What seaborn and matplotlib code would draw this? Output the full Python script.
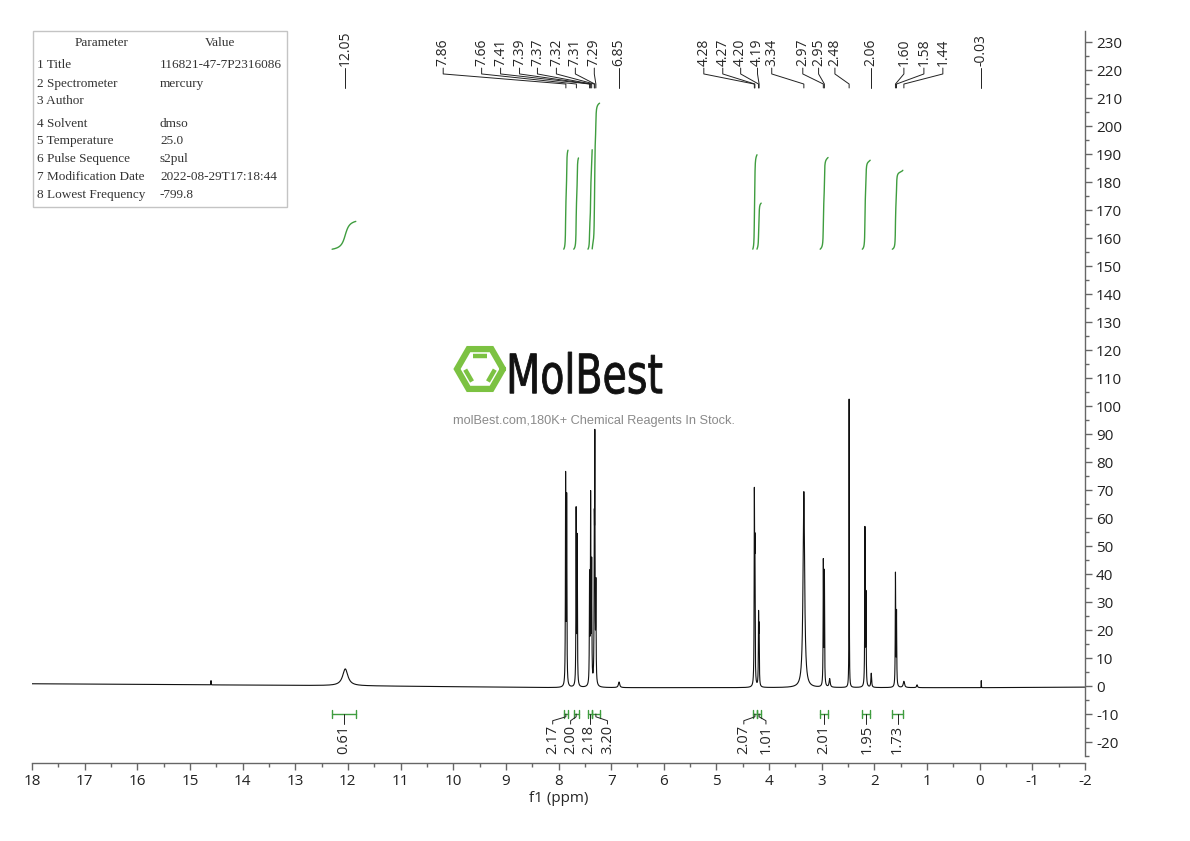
import numpy as np
import pandas as pd
import matplotlib
matplotlib.use("Agg")
import matplotlib.pyplot as plt
import seaborn as sns
from matplotlib.patches import Rectangle, PathPatch
from matplotlib.textpath import TextPath
from matplotlib.font_manager import FontProperties
from matplotlib.transforms import Affine2D
from matplotlib.ticker import MultipleLocator

# --- peaks: position (ppm), height, half width (ppm) ---
peak_ppm = [14.60, 12.05, 7.865, 7.845, 7.665, 7.645, 7.41, 7.39, 7.37, 7.32, 7.31, 7.29,
            6.85, 4.28, 4.27, 4.20, 4.19, 3.34, 2.97, 2.95, 2.85, 2.48, 2.18, 2.16,
            2.06, 1.60, 1.58, 1.44, 1.19, -0.03]
peak_height = [1.5, 6.0, 74, 66, 62, 52, 38, 66, 42, 48, 82, 34,
               2.0, 64, 44, 24, 19, 70, 44, 40, 3.0, 103, 56, 32,
               5.0, 40, 26, 2.2, 1.0, 2.5]
peak_hwhm = [0.002, 0.06, 0.0045, 0.0045, 0.0045, 0.0045, 0.0045, 0.0045, 0.0045, 0.0045, 0.0045, 0.0045,
             0.015, 0.0045, 0.0045, 0.0045, 0.0045, 0.018, 0.0045, 0.0045, 0.012, 0.003, 0.0045, 0.0045,
             0.008, 0.0045, 0.0045, 0.015, 0.01, 0.002]

baseline_ppm = [-2, 0, 8, 12, 18]
baseline_level = [-0.4, -0.6, -0.6, 0.1, 0.8]

# --- peak picking labels along the top ---
label_ppm = [12.05, 7.86, 7.66, 7.41, 7.39, 7.37, 7.32, 7.31, 7.29, 6.85,
             4.28, 4.27, 4.20, 4.19, 3.34, 2.97, 2.95, 2.48, 2.06, 1.60, 1.58, 1.44, -0.03]
label_pos = [12.05, 10.19, 9.46, 9.10, 8.74, 8.40, 8.04, 7.68, 7.32, 6.85,
             5.24, 4.88, 4.54, 4.22, 3.95, 3.36, 3.06, 2.75, 2.06, 1.44, 1.06, 0.70, -0.03]

# --- integrals ---
int_hi = [12.30, 7.90, 7.71, 7.44, 7.36, 4.31, 4.23, 3.03, 2.23, 1.66]
int_lo = [11.85, 7.82, 7.62, 7.36, 7.22, 4.23, 4.15, 2.88, 2.08, 1.46]
int_value = [0.61, 2.17, 2.00, 2.18, 3.20, 2.07, 1.01, 2.01, 1.95, 1.73]
int_label_pos = [12.07, 8.11, 7.77, 7.43, 7.07, 4.48, 4.06, 2.96, 2.13, 1.57]

param_names = ["1 Title", "2 Spectrometer", "3 Author", "4 Solvent", "5 Temperature",
               "6 Pulse Sequence", "7 Modification Date", "8 Lowest Frequency"]
param_values = ["116821-47-7P2316086", "mercury", "", "dmso", "25.0",
                "s2pul", "2022-08-29T17:18:44", "-799.8"]

sns.set_theme(style="white")
plt.rcParams["font.family"] = ["Open Sans", "DejaVu Sans"]
plt.rcParams["axes.unicode_minus"] = False

GREEN = "#3f9d3f"
LOGO_GREEN = "#7cc242"

# spectrum as a sum of lorentzian lines
ppm = np.linspace(18, -2, 40001)
base = np.interp(ppm, baseline_ppm, baseline_level)
spec = base.copy()
for p, h, w in zip(peak_ppm, peak_height, peak_hwhm):
    spec += h / (1 + ((ppm - p) / w) ** 2)
df = pd.DataFrame({"ppm": ppm, "intensity": spec})

fig = plt.figure(figsize=(11.9, 8.41), dpi=100)
ax = fig.add_axes([32 / 1190, 78 / 841, 1053 / 1190, 733 / 841])
sns.lineplot(data=df, x="ppm", y="intensity", ax=ax, color="#111111", lw=0.8,
             estimator=None, sort=False)
ax.set_xlim(18, -2)
ax.set_ylim(-27.5, 234.3)

# integral curves (cumulative area of each region)
for hi, lo, val in zip(int_hi, int_lo, int_value):
    m = (ppm <= hi) & (ppm >= lo)
    seg = spec[m] - base[m]
    cum = np.cumsum(seg)
    cum = cum / cum[-1]
    ax.plot(ppm[m], 156 + val * 16.3 * cum, color=GREEN, lw=1.0)

# integral brackets and values
for hi, lo, val, lx in zip(int_hi, int_lo, int_value, int_label_pos):
    c = (hi + lo) / 2
    ax.plot([hi, lo], [-10, -10], color=GREEN, lw=1.0)
    ax.plot([hi, hi], [-11.3, -8.7], color=GREEN, lw=1.0)
    ax.plot([lo, lo], [-11.3, -8.7], color=GREEN, lw=1.0)
    if abs(c - lx) < 0.03:
        ax.plot([c, c], [-10, -13.6], color="#222222", lw=0.7)
    else:
        ax.plot([c, c, lx, lx], [-10, -11.0, -12.4, -13.6], color="#222222", lw=0.7)
    ax.text(lx, -14.0, f"{val:.2f}", rotation=90, ha="center", va="top", fontsize=10.5)

# peak labels
for p, lx in zip(label_ppm, label_pos):
    ax.plot([lx, lx, p, p], [220.7, 218.6, 215.0, 213.6], color="#222222", lw=0.7)
    ax.text(lx, 221.3, f"{p:.2f}", rotation=90, ha="center", va="bottom", fontsize=10)

# axes styling
for side in ["left", "top"]:
    ax.spines[side].set_visible(False)
ax.spines["right"].set_bounds(-25, 234)
for side in ["right", "bottom"]:
    ax.spines[side].set_color("#666666")
    ax.spines[side].set_linewidth(1.0)
ax.yaxis.tick_right()
ax.yaxis.set_major_locator(MultipleLocator(10))
ax.yaxis.set_minor_locator(MultipleLocator(5))
ax.xaxis.set_major_locator(MultipleLocator(1))
ax.xaxis.set_minor_locator(MultipleLocator(0.5))
ax.tick_params(axis="both", which="major", direction="out", length=5, width=1,
               color="#666666", labelsize=11, labelcolor="#222222", pad=3)
ax.tick_params(axis="both", which="minor", direction="out", length=3, width=1, color="#666666")
ax.tick_params(axis="x", which="both", bottom=True)
ax.tick_params(axis="y", which="both", right=True, left=False)
ax.set_xlabel("f1 (ppm)", fontsize=11, labelpad=1)
ax.set_ylabel("")

# overlay in pixel units for the parameter table and the watermark
ov = fig.add_axes([0, 0, 1, 1])
ov.set_xlim(0, 1190)
ov.set_ylim(841, 0)
ov.axis("off")
ov.patch.set_alpha(0)

ov.add_patch(Rectangle((33, 31), 254, 176, fill=False, ec="#c4c4c4", lw=1))
tfont = dict(family="Liberation Serif", size=9.5, color="#333333", va="center")
ov.text(102, 43, "Parameter", ha="center", **tfont)
ov.text(220, 43, "Value", ha="center", **tfont)
row_y = [65, 84, 101, 124, 141, 159, 177, 195]
for y, n, v in zip(row_y, param_names, param_values):
    ov.text(37, y, n, ha="left", **tfont)
    ov.text(160, y, v, ha="left", **tfont)

# logo: hexagon ring with inner bonds
cx, cy, r = 480, 369, 23
ang = np.deg2rad(np.arange(0, 420, 60))
hx, hy = cx + r * np.cos(ang), cy + r * np.sin(ang)
ov.plot(hx, hy, color=LOGO_GREEN, lw=4.5, solid_joinstyle="miter")
for k0, k1 in [(4, 5), (2, 3), (0, 1)]:
    x0, y0 = cx + 0.66 * (hx[k0] - cx), cy + 0.66 * (hy[k0] - cy)
    x1, y1 = cx + 0.66 * (hx[k1] - cx), cy + 0.66 * (hy[k1] - cy)
    ov.plot([x0 + 0.05 * (x1 - x0), x1 - 0.05 * (x1 - x0)],
            [y0 + 0.05 * (y1 - y0), y1 - 0.05 * (y1 - y0)], color=LOGO_GREEN, lw=3.2,
            solid_capstyle="butt")

tp = TextPath((0, 0), "MolBest", size=50, prop=FontProperties(family="DejaVu Sans", weight="normal"))
bb = tp.get_extents()
tr = Affine2D().translate(-bb.x0, -bb.y0).scale(152 / bb.width, -42 / bb.height).translate(510, 394)
ov.add_patch(PathPatch(tr.transform_path(tp), fc="#111111", ec="#111111", lw=0.6))
ov.text(594, 421, "molBest.com,180K+ Chemical Reagents In Stock.", ha="center", va="center",
        fontsize=9.2, color="#8a8a8a", family="Liberation Sans")

fig.savefig("out.png", dpi=100)
